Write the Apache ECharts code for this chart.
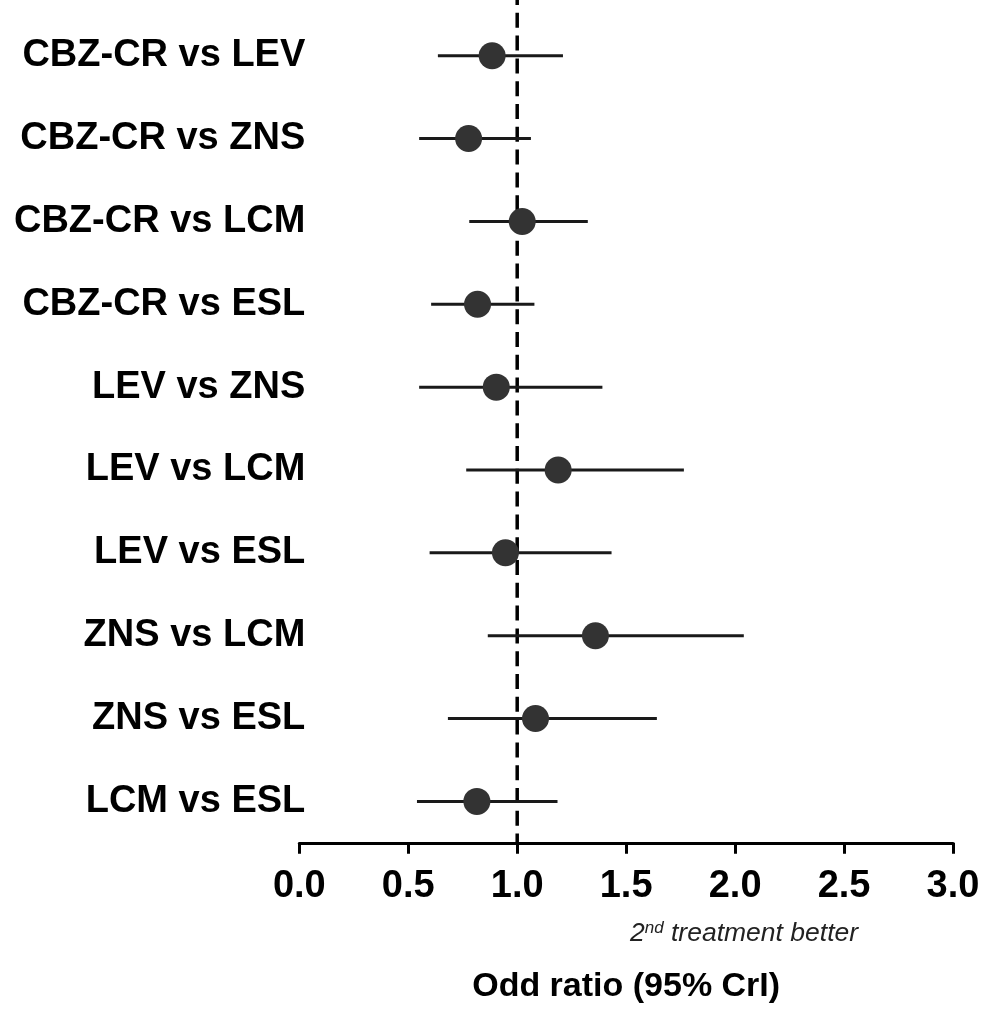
<!DOCTYPE html>
<html>
<head>
<meta charset="utf-8">
<script src="https://cdn.jsdelivr.net/npm/echarts@6/dist/echarts.min.js"></script>
<style>html,body{margin:0;padding:0;background:#fff}#c{width:986px;height:1012px}</style>
</head>
<body>
<div id="c"></div>
<script>
const comparisons = ['CBZ-CR vs LEV','CBZ-CR vs ZNS','CBZ-CR vs LCM','CBZ-CR vs ESL','LEV vs ZNS','LEV vs LCM','LEV vs ESL','ZNS vs LCM','ZNS vs ESL','LCM vs ESL'];
const oddRatio = [0.885, 0.777, 1.023, 0.818, 0.904, 1.188, 0.946, 1.359, 1.084, 0.815];
const lowerCrI = [0.636, 0.550, 0.780, 0.605, 0.550, 0.766, 0.598, 0.865, 0.682, 0.540];
const upperCrI = [1.210, 1.063, 1.324, 1.079, 1.391, 1.765, 1.433, 2.040, 1.641, 1.185];
const xTicks = [0.0, 0.5, 1.0, 1.5, 2.0, 2.5, 3.0];
const referenceValue = 1.0;

const FONT = 'Liberation Sans, Arial, Helvetica, sans-serif';
const chart = echarts.init(document.getElementById('c'), null, {renderer: 'canvas'});

const option = {
  backgroundColor: '#ffffff',
  animation: false,
  grid: {left: 299.3, right: 33, top: 14.3, bottom: 169.2, containLabel: false},
  title: {
    text: '{a|2}{s|nd}{b| treatment better}',
    left: 625, top: 915,
    textStyle: {
      fontWeight: 'normal',
      rich: {
        a: {fontFamily: FONT, fontStyle: 'italic', fontWeight: 'normal', fontSize: 26.5, color: '#222'},
        s: {fontFamily: FONT, fontStyle: 'italic', fontWeight: 'normal', fontSize: 17, color: '#222', verticalAlign: 'top', padding: [0,0,10,0]},
        b: {fontFamily: FONT, fontStyle: 'italic', fontWeight: 'normal', fontSize: 26.5, color: '#222'}
      }
    }
  },
  xAxis: {
    type: 'value',
    min: xTicks[0], max: xTicks[xTicks.length - 1], interval: 0.5,
    name: 'Odd ratio (95% CrI)',
    nameLocation: 'middle',
    nameGap: 127,
    nameTextStyle: {fontFamily: FONT, fontWeight: 'bold', fontSize: 34, color: '#000'},
    axisLine: {show: true, lineStyle: {color: '#000', width: 3}},
    axisTick: {show: true, length: 11, lineStyle: {color: '#000', width: 3}},
    splitLine: {show: false},
    axisLabel: {
      fontFamily: FONT, fontWeight: 'bold', fontSize: 38, color: '#000', margin: 25,
      formatter: v => v.toFixed(1)
    }
  },
  yAxis: {
    type: 'category',
    data: comparisons,
    inverse: true,
    axisLine: {show: false},
    axisTick: {show: false},
    splitLine: {show: false},
    axisLabel: {fontFamily: FONT, fontWeight: 'bold', fontSize: 38, color: '#000', margin: -6, padding: [7, 0, 0, 0]}
  },
  series: [
    {
      type: 'custom',
      name: 'reference',
      z: 1,
      silent: true,
      data: [[referenceValue, comparisons[0]]],
      renderItem: function (params, api) {
        const p = api.coord([api.value(0), 0]);
        const cs = params.coordSys;
        return {
          type: 'line',
          shape: {x1: p[0], y1: 0, x2: p[0], y2: cs.y + cs.height},
          style: {stroke: '#000', lineWidth: 3.5, lineDash: [15, 7.8], lineDashOffset: 10}
        };
      }
    },
    {
      type: 'custom',
      name: 'CrI',
      z: 2,
      silent: true,
      data: comparisons.map((c, i) => [lowerCrI[i], upperCrI[i], i]),
      encode: {x: [0, 1], y: 2},
      renderItem: function (params, api) {
        const a = api.coord([api.value(0), api.value(2)]);
        const b = api.coord([api.value(1), api.value(2)]);
        return {
          type: 'line',
          shape: {x1: a[0], y1: a[1], x2: b[0], y2: b[1]},
          style: {stroke: '#1a1a1a', lineWidth: 3}
        };
      }
    },
    {
      type: 'scatter',
      name: 'OR',
      z: 3,
      symbol: 'circle',
      symbolSize: 27,
      itemStyle: {color: '#333333', opacity: 1},
      data: comparisons.map((c, i) => [oddRatio[i], c])
    }
  ]
};
chart.setOption(option);
</script>
</body>
</html>
